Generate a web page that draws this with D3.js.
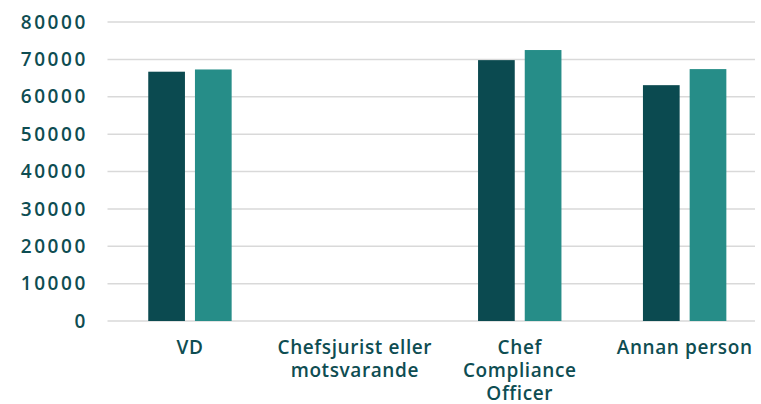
<!DOCTYPE html>
<html lang="sv">
<head>
<meta charset="utf-8">
<title>Lön per roll</title>
<script src="https://d3js.org/d3.v7.min.js"></script>
<style>
  body { margin: 0; background: #fff; }
  text { font-family: "Open Sans", sans-serif; font-weight: 600; fill: #0e4d52; }
  .grid line { stroke: #d9d9d9; stroke-width: 1.5; }
</style>
</head>
<body>
<script>
// data
var categories = ["VD", "Chefsjurist eller motsvarande", "Chef Compliance Officer", "Annan person"];
var labelLines = [["VD"], ["Chefsjurist eller", "motsvarande"], ["Chef", "Compliance", "Officer"], ["Annan person"]];
var series1 = [66700, null, 69800, 63100];
var series2 = [67300, null, 72500, 67400];
var yTicks = [0, 10000, 20000, 30000, 40000, 50000, 60000, 70000, 80000];

var w = 761, h = 404;
var plotLeft = 107.5, bandW = 164.9, gridRight = 755;
var plotTop = 22, plotBottom = 321;

var svg = d3.select("body").append("svg")
    .attr("width", w)
    .attr("height", h);

var x = d3.scaleBand()
    .domain(categories)
    .range([plotLeft, plotLeft + bandW * categories.length])
    .padding(0);

var y = d3.scaleLinear()
    .domain([0, 80000])
    .range([plotBottom, plotTop]);

// gridlines
var grid = svg.append("g").attr("class", "grid");
grid.selectAll("line")
    .data(yTicks)
    .enter()
    .append("line")
    .attr("x1", plotLeft)
    .attr("x2", gridRight)
    .attr("y1", function(d) { return y(d); })
    .attr("y2", function(d) { return y(d); });

// y labels
svg.append("g").selectAll("text")
    .data(yTicks)
    .enter()
    .append("text")
    .attr("x", 88)
    .attr("y", function(d) { return y(d); })
    .attr("dy", "0.35em")
    .attr("text-anchor", "end")
    .style("font-size", "19px")
    .style("letter-spacing", "2.6px")
    .text(function(d) { return String(d); });

// bars
var barW = 36.7, gap = 10;
var colors = ["#0b4a50", "#268d88"];
[series1, series2].forEach(function(s, si) {
  svg.append("g").selectAll("rect")
      .data(categories.map(function(c, i) { return { c: c, v: s[i] }; }).filter(function(d) { return d.v != null; }))
      .enter()
      .append("rect")
      .attr("x", function(d) {
        var cx = x(d.c) + x.bandwidth() / 2;
        return si === 0 ? cx - gap / 2 - barW : cx + gap / 2;
      })
      .attr("y", function(d) { return y(d.v); })
      .attr("width", barW)
      .attr("height", function(d) { return y(0) - y(d.v); })
      .attr("fill", colors[si]);
});

// category labels
var lab = svg.append("g").selectAll("text")
    .data(categories)
    .enter()
    .append("text")
    .attr("text-anchor", "middle")
    .attr("y", 354)
    .style("font-size", "19px")
    .style("letter-spacing", "0.6px");

lab.each(function(d, i) {
  var t = d3.select(this);
  labelLines[i].forEach(function(line, j) {
    t.append("tspan")
      .attr("x", x(d) + x.bandwidth() / 2)
      .attr("dy", j === 0 ? 0 : 23)
      .text(line);
  });
});
</script>
</body>
</html>
